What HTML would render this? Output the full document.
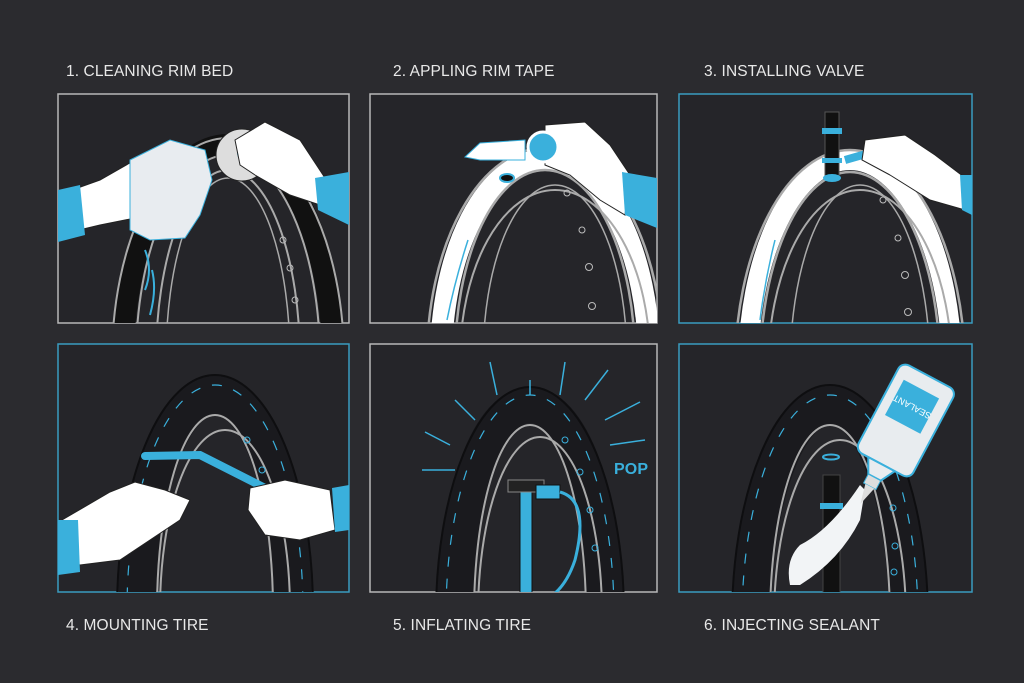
<!DOCTYPE html><html><head><style>
html,body{margin:0;padding:0;background:#2b2b2f;width:1024px;height:683px;overflow:hidden;}
svg{display:block}
text{font-family:"Liberation Sans",sans-serif;font-size:15.5px;fill:#e8e8e8;letter-spacing:0.1px}
</style></head><body>
<svg width="1024" height="683" viewBox="0 0 1024 683" xmlns="http://www.w3.org/2000/svg">
<defs>
<clipPath id="c1"><rect x="58" y="94" width="291" height="229"/></clipPath>
<clipPath id="c2"><rect x="370" y="94" width="287" height="229"/></clipPath>
<clipPath id="c3"><rect x="679" y="94" width="293" height="229"/></clipPath>
<clipPath id="c4"><rect x="58" y="344" width="291" height="248"/></clipPath>
<clipPath id="c5"><rect x="370" y="344" width="287" height="248"/></clipPath>
<clipPath id="c6"><rect x="679" y="344" width="293" height="248"/></clipPath>
</defs>
<rect width="1024" height="683" fill="#2b2b2f"/>
<text x="66" y="76">1. CLEANING RIM BED</text>
<text x="393" y="76">2. APPLING RIM TAPE</text>
<text x="704" y="76">3. INSTALLING VALVE</text>
<text x="66" y="630">4. MOUNTING TIRE</text>
<text x="393" y="630">5. INFLATING TIRE</text>
<text x="704" y="630">6. INJECTING SEALANT</text>

<!-- panel 1 -->
<rect x="58" y="94" width="291" height="229" fill="#252529" stroke="#b8b8b8" stroke-width="1.5"/>
<g clip-path="url(#c1)" fill="none">
<ellipse cx="228" cy="360" rx="105" ry="215" stroke="#111" stroke-width="22"/>
<ellipse cx="228" cy="360" rx="116" ry="222" stroke="#aaa" stroke-width="2"/>
<ellipse cx="228" cy="360" rx="92" ry="205" stroke="#aaa" stroke-width="2"/>
<ellipse cx="228" cy="360" rx="72" ry="190" stroke="#aaa" stroke-width="2"/>
<ellipse cx="228" cy="360" rx="62" ry="182" stroke="#aaa" stroke-width="1.5"/>
<path d="M145 250 q8 20 0 40 M152 270 q5 20 -2 45" stroke="#3ab0dc" stroke-width="2"/>
<circle cx="283" cy="240" r="3" stroke="#bbb"/><circle cx="290" cy="268" r="3" stroke="#bbb"/><circle cx="295" cy="300" r="3" stroke="#bbb"/>
<path d="M58 195 L100 180 L135 160 L175 150 L200 170 L195 200 L150 215 L100 225 L58 235Z" fill="#fff" stroke="#222"/>
<path d="M58 190 L80 185 L85 235 L58 242Z" fill="#3ab0dc"/>
<path d="M130 160 L170 140 L205 150 L212 180 L200 215 L185 238 L150 240 L130 230 Z" fill="#e8ecf0" stroke="#3ab0dc"/>
<circle cx="242" cy="155" r="26" fill="#ddd" stroke="#222"/>
<circle cx="250" cy="152" r="12" fill="#999" stroke="#3ab0dc" stroke-width="2"/>
<path d="M235 140 L265 122 L300 140 L325 178 L320 205 L290 195 L255 175 L240 165Z" fill="#fff" stroke="#222"/>
<path d="M315 178 L349 172 L349 225 L318 210Z" fill="#3ab0dc"/>
</g>

<!-- panel 2 -->
<rect x="370" y="94" width="287" height="229" fill="#252529" stroke="#b8b8b8" stroke-width="1.5"/>
<g clip-path="url(#c2)" fill="none">
<ellipse cx="545" cy="360" rx="104" ry="200" stroke="#fff" stroke-width="22"/>
<ellipse cx="545" cy="360" rx="118" ry="212" stroke="#aaa" stroke-width="2.5"/>
<ellipse cx="545" cy="360" rx="90" ry="190" stroke="#aaa" stroke-width="2.5"/>
<ellipse cx="555" cy="360" rx="72" ry="175" stroke="#aaa" stroke-width="1.5"/>
<ellipse cx="555" cy="360" rx="95" ry="170" stroke="#aaa" stroke-width="2"/>
<path d="M468 240 Q455 280 447 320" stroke="#3ab0dc" stroke-width="1.5"/>
<ellipse cx="507" cy="178" rx="7" ry="4" fill="#111" stroke="#3ab0dc" stroke-width="2"/>
<circle cx="567" cy="193" r="3" stroke="#bbb"/><circle cx="582" cy="230" r="3" stroke="#bbb"/><circle cx="589" cy="267" r="3.5" stroke="#bbb"/><circle cx="592" cy="306" r="3.5" stroke="#bbb"/>
<path d="M465 157 L480 143 L525 140 L525 160 L480 160Z" fill="#fff" stroke="#3ab0dc"/>
<path d="M545 125 L585 122 L610 145 L630 175 L625 215 L600 200 L570 175 L545 165Z" fill="#fff" stroke="#222"/>
<circle cx="543" cy="147" r="15" fill="#3ab0dc" stroke="#fff" stroke-width="3"/>
<path d="M622 172 L657 178 L657 228 L625 215Z" fill="#3ab0dc"/>
</g>

<!-- panel 3 -->
<rect x="679" y="94" width="293" height="229" fill="#252529" stroke="#3a9cc0" stroke-width="1.5"/>
<g clip-path="url(#c3)" fill="none">
<ellipse cx="850" cy="370" rx="102" ry="210" stroke="#fff" stroke-width="20"/>
<ellipse cx="850" cy="370" rx="115" ry="220" stroke="#aaa" stroke-width="2.5"/>
<ellipse cx="850" cy="370" rx="90" ry="198" stroke="#aaa" stroke-width="2.5"/>
<ellipse cx="860" cy="370" rx="92" ry="180" stroke="#aaa" stroke-width="2"/>
<ellipse cx="860" cy="370" rx="70" ry="185" stroke="#aaa" stroke-width="1.5"/>
<path d="M775 240 Q765 280 760 320" stroke="#3ab0dc" stroke-width="1.5"/>
<circle cx="883" cy="200" r="3" stroke="#bbb"/><circle cx="898" cy="238" r="3" stroke="#bbb"/><circle cx="905" cy="275" r="3.5" stroke="#bbb"/><circle cx="908" cy="312" r="3.5" stroke="#bbb"/>
<rect x="825" y="112" width="14" height="65" fill="#111" stroke="#555"/>
<rect x="822" y="128" width="20" height="6" fill="#3ab0dc"/>
<rect x="822" y="158" width="20" height="5" fill="#3ab0dc"/>
<ellipse cx="832" cy="178" rx="9" ry="4" fill="#3ab0dc"/>
<path d="M845 160 L880 150" stroke="#3ab0dc" stroke-width="8"/>
<path d="M865 140 L905 135 L935 155 L968 180 L965 210 L930 200 L890 175 L862 160Z" fill="#fff" stroke="#222"/>
<path d="M960 175 L972 175 L972 215 L962 210Z" fill="#3ab0dc"/>
</g>

<!-- panel 4 -->
<rect x="58" y="344" width="291" height="248" fill="#252529" stroke="#3a9cc0" stroke-width="1.5"/>
<g clip-path="url(#c4)" fill="none">
<ellipse cx="215" cy="610" rx="78" ry="215" stroke="#1a1a1e" stroke-width="38"/>
<ellipse cx="215" cy="610" rx="98" ry="235" stroke="#0e0e10" stroke-width="2"/>
<ellipse cx="215" cy="610" rx="88" ry="225" stroke="#3ab0dc" stroke-width="1.2" stroke-dasharray="10 12"/>
<ellipse cx="215" cy="610" rx="58" ry="195" stroke="#aaa" stroke-width="2"/>
<ellipse cx="225" cy="610" rx="65" ry="180" stroke="#aaa" stroke-width="2"/>
<circle cx="247" cy="440" r="3" stroke="#3ab0dc"/><circle cx="262" cy="470" r="3" stroke="#3ab0dc"/><circle cx="275" cy="505" r="3" stroke="#3ab0dc"/>
<path d="M145 456 L200 455 L265 488" stroke="#3ab0dc" stroke-width="8" stroke-linecap="round"/>
<path d="M62 520 L110 492 L135 482 L165 490 L190 500 L180 520 L150 540 L120 560 L80 565 L62 560Z" fill="#fff" stroke="#222"/>
<path d="M58 520 L78 520 L80 572 L58 575Z" fill="#3ab0dc"/>
<path d="M250 488 L285 480 L330 490 L335 530 L300 540 L265 535 L248 510Z" fill="#fff" stroke="#222"/>
<path d="M332 488 L349 485 L349 530 L335 532Z" fill="#3ab0dc"/>
</g>

<!-- panel 5 -->
<rect x="370" y="344" width="287" height="248" fill="#252529" stroke="#b8b8b8" stroke-width="1.5"/>
<g clip-path="url(#c5)" fill="none">
<ellipse cx="530" cy="615" rx="75" ry="210" stroke="#1a1a1e" stroke-width="36"/>
<ellipse cx="530" cy="615" rx="94" ry="228" stroke="#0e0e10" stroke-width="2"/>
<ellipse cx="530" cy="615" rx="84" ry="220" stroke="#3ab0dc" stroke-width="1.2" stroke-dasharray="10 12"/>
<ellipse cx="530" cy="615" rx="56" ry="190" stroke="#aaa" stroke-width="2"/>
<ellipse cx="540" cy="615" rx="62" ry="178" stroke="#aaa" stroke-width="2"/>
<circle cx="565" cy="440" r="3" stroke="#3ab0dc"/><circle cx="580" cy="472" r="3" stroke="#3ab0dc"/><circle cx="590" cy="510" r="3" stroke="#3ab0dc"/><circle cx="595" cy="548" r="3" stroke="#3ab0dc"/>
<g stroke="#3ab0dc" stroke-width="1.5">
<line x1="425" y1="432" x2="450" y2="445"/><line x1="455" y1="400" x2="475" y2="420"/><line x1="490" y1="362" x2="497" y2="395"/><line x1="530" y1="380" x2="530" y2="395"/><line x1="565" y1="362" x2="560" y2="395"/><line x1="608" y1="370" x2="585" y2="400"/><line x1="640" y1="402" x2="605" y2="420"/><line x1="645" y1="440" x2="610" y2="445"/><line x1="422" y1="470" x2="455" y2="470"/>
</g>
<text x="614" y="474" style="font-size:16px;fill:#3ab0dc;font-weight:bold">POP</text>
<rect x="520" y="490" width="12" height="110" fill="#3ab0dc" stroke="#111"/>
<rect x="508" y="480" width="36" height="12" fill="#222" stroke="#888"/>
<rect x="536" y="485" width="24" height="14" fill="#3ab0dc" stroke="#111"/>
<path d="M560 492 Q590 500 575 560 Q565 590 545 600" stroke="#3ab0dc" stroke-width="3"/>
</g>

<!-- panel 6 -->
<rect x="679" y="344" width="293" height="248" fill="#252529" stroke="#3a9cc0" stroke-width="1.5"/>
<g clip-path="url(#c6)" fill="none">
<ellipse cx="830" cy="620" rx="78" ry="215" stroke="#1a1a1e" stroke-width="38"/>
<ellipse cx="830" cy="620" rx="98" ry="235" stroke="#0e0e10" stroke-width="2"/>
<ellipse cx="830" cy="620" rx="88" ry="225" stroke="#3ab0dc" stroke-width="1.2" stroke-dasharray="10 12"/>
<ellipse cx="830" cy="620" rx="60" ry="195" stroke="#aaa" stroke-width="2"/>
<ellipse cx="840" cy="620" rx="66" ry="180" stroke="#aaa" stroke-width="2"/>
<circle cx="893" cy="508" r="3" stroke="#3ab0dc"/><circle cx="895" cy="546" r="3" stroke="#3ab0dc"/><circle cx="894" cy="572" r="3" stroke="#3ab0dc"/>
<ellipse cx="831" cy="457" rx="8" ry="2.5" stroke="#3ab0dc" stroke-width="2"/>
<rect x="823" y="475" width="17" height="120" fill="#111" stroke="#444"/>
<rect x="820" y="503" width="23" height="6" fill="#3ab0dc"/>
<path d="M860 485 Q830 530 800 545 Q785 560 790 585 L800 585 Q840 560 860 520 L865 490Z" fill="#f2f4f6"/>
<g transform="rotate(28 905 420)">
<rect x="875" y="370" width="62" height="100" rx="8" fill="#e8ecef" stroke="#3ab0dc" stroke-width="2"/>
<rect x="885" y="385" width="40" height="40" fill="#3ab0dc"/>
<text x="905" y="410" text-anchor="middle" transform="rotate(180 905 406)" style="font-size:9px;fill:#fff">SEALANT</text>
<path d="M890 470 L920 470 L912 485 L898 485Z" fill="#e8ecef" stroke="#3ab0dc" stroke-width="2"/>
<rect x="898" y="485" width="14" height="10" fill="#ddd" stroke="#3ab0dc"/>
<path d="M900 495 L910 495 L905 515Z" fill="#ddd"/>
</g>
</g>
</svg>
</body></html>
